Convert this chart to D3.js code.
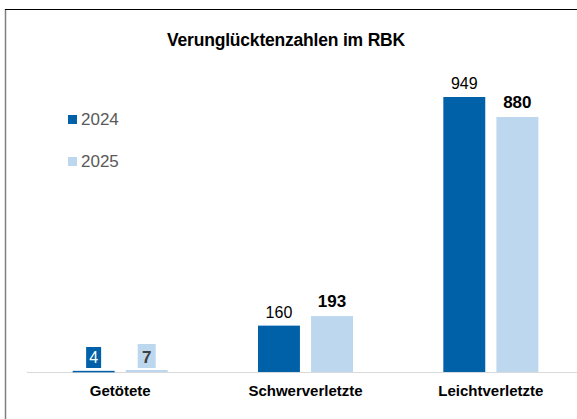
<!DOCTYPE html>
<html lang="de">
<head>
<meta charset="UTF-8">
<script src="https://cdn.jsdelivr.net/npm/d3@7"></script>
<style>
    body { margin: 0; background: #fff; }
    svg { display: block; font-family: "Liberation Sans", Arial, sans-serif; }
</style>
</head>
<body>
<script>
    // ---- data ----
    const categories = ["Getötete", "Schwerverletzte", "Leichtverletzte"];
    const years = ["2024", "2025"];
    const values2024 = [4, 160, 949];
    const values2025 = [7, 193, 880];
    const title = "Verunglücktenzahlen im RBK";

    const colors = { "2024": "#0060A8", "2025": "#BDD7EE" };

    const width = 577, height = 419;
    const baseY = 372;

    const svg = d3.select("body").append("svg")
        .attr("width", width)
        .attr("height", height);

    // frame
    svg.append("line").attr("x1", 5.5).attr("x2", 5.5).attr("y1", 9).attr("y2", height)
        .attr("stroke", "#7f7f7f").attr("stroke-width", 1.5);
    svg.append("line").attr("x1", 5).attr("x2", width).attr("y1", 9.5).attr("y2", 9.5)
        .attr("stroke", "#000").attr("stroke-width", 1);

    // title
    svg.append("text")
        .attr("x", 286).attr("y", 46)
        .attr("text-anchor", "middle")
        .attr("font-size", 17.5).attr("font-weight", "bold")
        .attr("letter-spacing", -0.2)
        .attr("fill", "#000")
        .text(title);

    // scales
    const x = d3.scaleBand().domain(categories).range([27.5, 583.5]).padding(0);
    const step = x.bandwidth();
    const xi = d3.scaleBand().domain(years)
        .range([step / 2 - 47.5, step / 2 + 47.5])
        .paddingInner(0.21);
    const y = d3.scaleLinear().domain([0, 949]).range([baseY, 97]);

    const rows = categories.map((c, i) => ({ cat: c, "2024": values2024[i], "2025": values2025[i] }));

    // baseline
    svg.append("line").attr("x1", 27).attr("x2", width).attr("y1", baseY + 0.5).attr("y2", baseY + 0.5)
        .attr("stroke", "#d9d9d9").attr("stroke-width", 1);

    const groups = svg.selectAll("g.cat").data(rows).enter().append("g")
        .attr("class", "cat")
        .attr("transform", d => `translate(${x(d.cat)},0)`);

    groups.selectAll("rect.bar")
        .data(d => years.map(yr => ({ yr, v: d[yr] })))
        .enter().append("rect")
        .attr("class", "bar")
        .attr("x", d => xi(d.yr))
        .attr("width", xi.bandwidth())
        .attr("y", d => y(d.v))
        .attr("height", d => Math.max(1.5, baseY - y(d.v)))
        .attr("fill", d => colors[d.yr]);

    // value labels
    groups.each(function (d, i) {
        const g = d3.select(this);
        years.forEach(yr => {
            const v = d[yr];
            const cx = xi(yr) + xi.bandwidth() / 2;
            const bold = yr === "2025";
            const fs = bold ? 17 : 16;
            if (i === 0) {
                // small values: label in a coloured box
                const bw = bold ? 18 : 15, bh = bold ? 24 : 21;
                g.append("rect")
                    .attr("x", cx - bw / 2).attr("y", baseY - 4 - bh)
                    .attr("width", bw).attr("height", bh)
                    .attr("fill", colors[yr]);
                g.append("text")
                    .attr("x", cx).attr("y", baseY - 9)
                    .attr("text-anchor", "middle")
                    .attr("font-size", fs).attr("font-weight", bold ? "bold" : "normal")
                    .attr("fill", bold ? "#404040" : "#fff")
                    .text(v);
            } else {
                g.append("text")
                    .attr("x", cx).attr("y", y(v) - (bold ? 9 : 8))
                    .attr("text-anchor", "middle")
                    .attr("font-size", fs).attr("font-weight", bold ? "bold" : "normal")
                    .attr("fill", "#000")
                    .text(v);
            }
        });
    });

    // category labels
    svg.selectAll("text.cat-label").data(categories).enter().append("text")
        .attr("class", "cat-label")
        .attr("x", d => x(d) + step / 2)
        .attr("y", 396)
        .attr("text-anchor", "middle")
        .attr("font-size", 15).attr("font-weight", "bold")
        .attr("fill", "#000")
        .text(d => d);

    // legend
    const legend = svg.selectAll("g.legend").data(years).enter().append("g")
        .attr("class", "legend")
        .attr("transform", (d, i) => `translate(68,${115 + i * 42})`);
    legend.append("rect").attr("width", 9).attr("height", 9).attr("fill", d => colors[d]);
    legend.append("text").attr("x", 13).attr("y", 10)
        .attr("font-size", 17).attr("fill", "#595959")
        .text(d => d);
</script>
</body>
</html>
